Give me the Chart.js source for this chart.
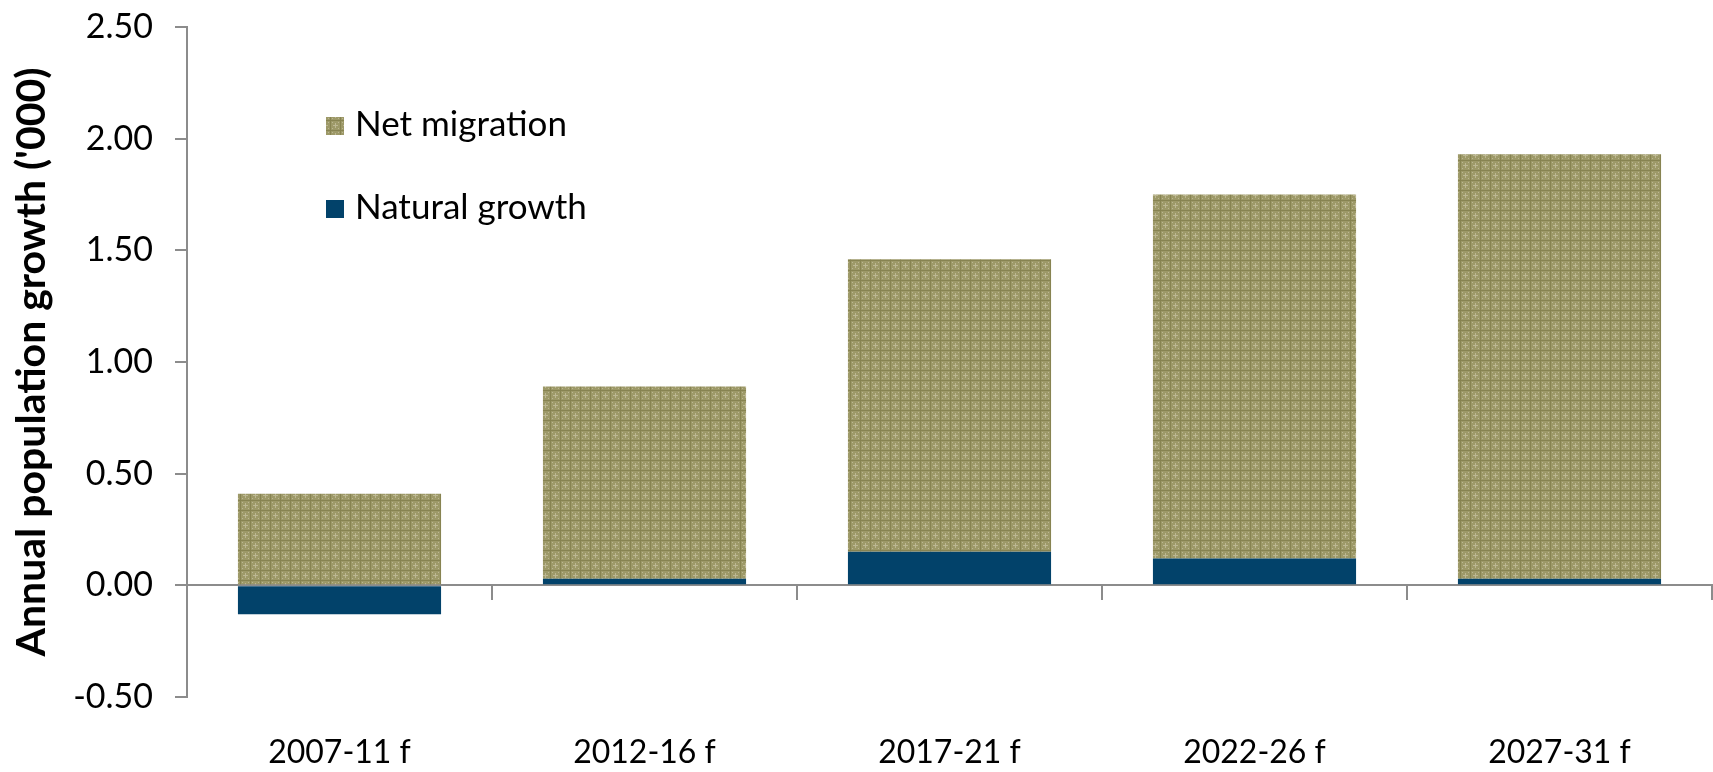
<!DOCTYPE html>
<html lang="en">
<head>
<meta charset="utf-8">
<title>Annual population growth</title>
<script src="https://cdn.jsdelivr.net/npm/chart.js@4.4.1/dist/chart.umd.min.js"></script>
<style>
    html, body { margin: 0; padding: 0; background: #ffffff; }
    #wrap { width: 1713px; height: 772px; position: relative; }
</style>
</head>
<body>
<div id="wrap"><canvas id="growthChart"></canvas></div>
<script>
// Five-year forecast periods
const periods = ['2007-11 f', '2012-16 f', '2017-21 f', '2022-26 f', '2027-31 f'];

// Components of growth, thousands per year
const naturalGrowth = [-0.13, 0.03, 0.15, 0.12, 0.03];
const netMigration = [0.41, 0.86, 1.31, 1.63, 1.90];

const yTicks = [-0.5, 0, 0.5, 1, 1.5, 2, 2.5];

const FONT = "'Gill Sans', 'Gill Sans MT', Lato, sans-serif";
const AXIS_GREY = '#8c8c8c';
const NAVY = '#02426a';

// Small olive weave tile used as the fill for net migration
function makeWeave() {
    const tile = document.createElement('canvas');
    tile.width = 10;
    tile.height = 10;
    const t = tile.getContext('2d');
    t.fillStyle = '#9d9968';
    t.fillRect(0, 0, 10, 10);
    t.fillStyle = '#878351';
    t.fillRect(0, 0, 10, 1);
    t.fillRect(0, 0, 1, 10);
    t.fillStyle = '#bcb792';
    [[3, 5], [4, 5], [6, 5], [7, 5], [5, 3], [5, 4], [5, 6], [5, 7], [5, 5],
     [2, 2], [8, 2], [2, 8], [8, 8]].forEach(([x, y]) => t.fillRect(x, y, 1, 1));
    return t.createPattern(tile, 'repeat');
}

// Legend sits inside the plot, net migration listed first
const insideLegend = {
    id: 'insideLegend',
    afterDraw(chart) {
        const ctx = chart.ctx;
        const area = chart.chartArea;
        const items = [chart.data.datasets[1], chart.data.datasets[0]];
        ctx.save();
        ctx.font = '35px ' + FONT;
        ctx.textBaseline = 'middle';
        items.forEach((ds, i) => {
            const x = area.left + 139;
            const y = 117 + i * 83;
            ctx.fillStyle = ds.backgroundColor;
            ctx.fillRect(x, y, 18, 18);
            ctx.fillStyle = '#000';
            ctx.fillText(ds.label, x + 29, y + 8);
        });
        ctx.restore();
    }
};

function buildChart() {
    const ctx = document.getElementById('growthChart');
    const weave = makeWeave();

    new Chart(ctx, {
        type: 'bar',
        data: {
            labels: periods,
            datasets: [
                {
                    label: 'Natural growth',
                    data: naturalGrowth,
                    backgroundColor: NAVY,
                    borderWidth: 0
                },
                {
                    label: 'Net migration',
                    data: netMigration,
                    backgroundColor: weave,
                    borderWidth: 0
                }
            ]
        },
        options: {
            responsive: true,
            maintainAspectRatio: false,
            animation: false,
            datasets: {
                bar: { categoryPercentage: 0.666, barPercentage: 1.0 }
            },
            layout: { padding: { top: 27, right: 1, left: 0, bottom: 0 } },
            plugins: {
                legend: { display: false },
                tooltip: { enabled: false }
            },
            scales: {
                x: {
                    stacked: true,
                    grid: { display: false, tickLength: 0 },
                    border: { display: false },
                    ticks: {
                        color: '#000',
                        padding: 40,
                        font: { family: FONT, size: 32, lineHeight: 1.0 }
                    },
                    afterFit: (scale) => { scale.height = 75; }
                },
                // zero line with period dividers hanging below it
                xZero: {
                    type: 'category',
                    labels: periods,
                    position: { y: 0 },
                    grid: {
                        offset: true,
                        drawOnChartArea: false,
                        drawTicks: true,
                        tickLength: 14,
                        color: AXIS_GREY,
                        lineWidth: 2
                    },
                    border: { color: AXIS_GREY, width: 2 },
                    ticks: { display: false }
                },
                y: {
                    stacked: true,
                    min: -0.5,
                    max: 2.5,
                    afterBuildTicks: (axis) => {
                        axis.ticks = yTicks.map(v => ({ value: v }));
                    },
                    afterFit: (scale) => {
                        scale.width = 187;
                        scale.paddingTop = 27;
                        scale.paddingBottom = 0;
                    },
                    grid: {
                        drawOnChartArea: false,
                        tickLength: 12,
                        color: AXIS_GREY,
                        lineWidth: 2
                    },
                    border: { color: AXIS_GREY, width: 2 },
                    ticks: {
                        color: '#000',
                        padding: 22,
                        font: { family: FONT, size: 34 },
                        callback: (v) => Number(v).toFixed(2)
                    },
                    title: {
                        display: true,
                        text: "Annual population growth ('000)",
                        color: '#000',
                        padding: { top: 7, bottom: 0 },
                        font: { family: FONT, size: 41, weight: 'bold' }
                    }
                }
            }
        },
        plugins: [insideLegend]
    });
}

document.addEventListener('DOMContentLoaded', buildChart);
</script>
</body>
</html>
